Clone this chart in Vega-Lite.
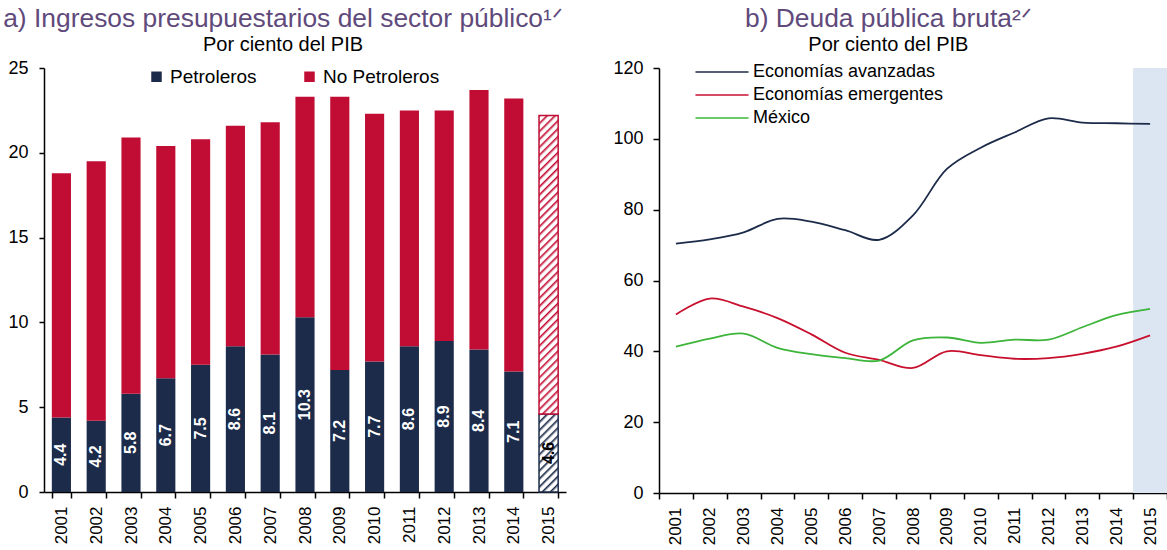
{
  "$schema": "https://vega.github.io/schema/vega-lite/v6.json",
  "padding": {"left": 0, "top": 5, "right": 0, "bottom": 0},
  "spacing": 43,
  "resolve": {"scale": {"color": "independent", "stroke": "independent", "x": "independent", "y": "independent"}, "legend": {"color": "independent", "stroke": "independent"}},
  "config": {
    "view": {"stroke": null},
    "font": "Liberation Sans",
    "axis": {"domainColor": "#000", "tickColor": "#000", "labelColor": "#000", "grid": false, "domainWidth": 1.5, "tickWidth": 1.5, "labelFont": "Liberation Sans", "zindex": 1},
    "title": {"font": "Liberation Sans", "fontSize": 26.4, "fontWeight": "normal", "color": "#604a7b", "subtitleFont": "Liberation Sans", "subtitleFontSize": 20, "subtitleColor": "#000", "subtitlePadding": 3, "anchor": "middle", "frame": "bounds", "offset": 4},
    "legend": {"labelFont": "Liberation Sans", "labelColor": "#000", "labelLimit": 0}
  },
  "datasets": {
    "ingresos": [
      {"year": "2001", "tipo": "Petroleros", "value": 4.4}, {"year": "2001", "tipo": "No Petroleros", "value": 14.4},
      {"year": "2002", "tipo": "Petroleros", "value": 4.2}, {"year": "2002", "tipo": "No Petroleros", "value": 15.3},
      {"year": "2003", "tipo": "Petroleros", "value": 5.8}, {"year": "2003", "tipo": "No Petroleros", "value": 15.1},
      {"year": "2004", "tipo": "Petroleros", "value": 6.7}, {"year": "2004", "tipo": "No Petroleros", "value": 13.7},
      {"year": "2005", "tipo": "Petroleros", "value": 7.5}, {"year": "2005", "tipo": "No Petroleros", "value": 13.3},
      {"year": "2006", "tipo": "Petroleros", "value": 8.6}, {"year": "2006", "tipo": "No Petroleros", "value": 13.0},
      {"year": "2007", "tipo": "Petroleros", "value": 8.1}, {"year": "2007", "tipo": "No Petroleros", "value": 13.7},
      {"year": "2008", "tipo": "Petroleros", "value": 10.3}, {"year": "2008", "tipo": "No Petroleros", "value": 13.0},
      {"year": "2009", "tipo": "Petroleros", "value": 7.2}, {"year": "2009", "tipo": "No Petroleros", "value": 16.1},
      {"year": "2010", "tipo": "Petroleros", "value": 7.7}, {"year": "2010", "tipo": "No Petroleros", "value": 14.6},
      {"year": "2011", "tipo": "Petroleros", "value": 8.6}, {"year": "2011", "tipo": "No Petroleros", "value": 13.9},
      {"year": "2012", "tipo": "Petroleros", "value": 8.9}, {"year": "2012", "tipo": "No Petroleros", "value": 13.6},
      {"year": "2013", "tipo": "Petroleros", "value": 8.4}, {"year": "2013", "tipo": "No Petroleros", "value": 15.3},
      {"year": "2014", "tipo": "Petroleros", "value": 7.1}, {"year": "2014", "tipo": "No Petroleros", "value": 16.1},
      {"year": "2015", "tipo": "Petroleros", "value": 4.6}, {"year": "2015", "tipo": "No Petroleros", "value": 17.6}
    ],
    "deuda": [
      {"year": "2001", "serie": "Economías avanzadas", "value": 70.4},
      {"year": "2002", "serie": "Economías avanzadas", "value": 71.6},
      {"year": "2003", "serie": "Economías avanzadas", "value": 73.6},
      {"year": "2004", "serie": "Economías avanzadas", "value": 77.4},
      {"year": "2005", "serie": "Economías avanzadas", "value": 76.6},
      {"year": "2006", "serie": "Economías avanzadas", "value": 74.2},
      {"year": "2007", "serie": "Economías avanzadas", "value": 71.5},
      {"year": "2008", "serie": "Economías avanzadas", "value": 78.4},
      {"year": "2009", "serie": "Economías avanzadas", "value": 91.5},
      {"year": "2010", "serie": "Economías avanzadas", "value": 97.5},
      {"year": "2011", "serie": "Economías avanzadas", "value": 101.8},
      {"year": "2012", "serie": "Economías avanzadas", "value": 105.8},
      {"year": "2013", "serie": "Economías avanzadas", "value": 104.6},
      {"year": "2014", "serie": "Economías avanzadas", "value": 104.4},
      {"year": "2015", "serie": "Economías avanzadas", "value": 104.2},
      {"year": "2001", "serie": "Economías emergentes", "value": 50.4},
      {"year": "2002", "serie": "Economías emergentes", "value": 54.9},
      {"year": "2003", "serie": "Economías emergentes", "value": 52.6},
      {"year": "2004", "serie": "Economías emergentes", "value": 49.4},
      {"year": "2005", "serie": "Economías emergentes", "value": 44.8},
      {"year": "2006", "serie": "Economías emergentes", "value": 39.6},
      {"year": "2007", "serie": "Economías emergentes", "value": 37.6},
      {"year": "2008", "serie": "Economías emergentes", "value": 35.3},
      {"year": "2009", "serie": "Economías emergentes", "value": 40.0},
      {"year": "2010", "serie": "Economías emergentes", "value": 38.9},
      {"year": "2011", "serie": "Economías emergentes", "value": 37.9},
      {"year": "2012", "serie": "Economías emergentes", "value": 38.1},
      {"year": "2013", "serie": "Economías emergentes", "value": 39.3},
      {"year": "2014", "serie": "Economías emergentes", "value": 41.3},
      {"year": "2015", "serie": "Economías emergentes", "value": 44.5},
      {"year": "2001", "serie": "México", "value": 41.3},
      {"year": "2002", "serie": "México", "value": 43.6},
      {"year": "2003", "serie": "México", "value": 45.0},
      {"year": "2004", "serie": "México", "value": 41.0},
      {"year": "2005", "serie": "México", "value": 39.2},
      {"year": "2006", "serie": "México", "value": 38.1},
      {"year": "2007", "serie": "México", "value": 37.4},
      {"year": "2008", "serie": "México", "value": 43.1},
      {"year": "2009", "serie": "México", "value": 43.9},
      {"year": "2010", "serie": "México", "value": 42.4},
      {"year": "2011", "serie": "México", "value": 43.3},
      {"year": "2012", "serie": "México", "value": 43.3},
      {"year": "2013", "serie": "México", "value": 46.8},
      {"year": "2014", "serie": "México", "value": 50.2},
      {"year": "2015", "serie": "México", "value": 52.0}
    ]
  },
  "hconcat": [
    {
      "width": 522,
      "height": 424,
      "title": {"text": "a) Ingresos presupuestarios del sector público¹ᐟ", "subtitle": "Por ciento del PIB"},
      "data": {"name": "ingresos"},
      "layer": [
        {
          "mark": {"type": "bar"},
          "encoding": {
            "x": {"field": "year", "type": "ordinal", "title": null, "scale": {"type": "band", "paddingInner": 0.45, "paddingOuter": 0.225}, "axis": {"labelAngle": -90, "labelFontSize": 17, "tickBand": "extent", "tickSize": 6, "labelPadding": 8}},
            "y": {"field": "value", "type": "quantitative", "stack": "zero", "title": null, "scale": {"domain": [0, 25], "nice": false}, "axis": {"values": [0, 5, 10, 15, 20, 25], "labelFontSize": 18, "tickSize": 5, "labelPadding": 11, "minExtent": 44}},
            "order": {"field": "tipo", "sort": "descending"},
            "stroke": {"field": "tipo", "type": "nominal", "legend": null, "scale": {"domain": ["Petroleros", "No Petroleros"], "range": ["#1c2b4a", "#c10d33"]}},
            "strokeWidth": {"condition": {"test": "datum.year === '2015'", "value": 1.5}, "value": 0},
            "color": {
              "field": "tipo", "type": "nominal",
              "scale": {"domain": ["Petroleros", "No Petroleros"], "range": ["#1c2b4a", "#c10d33"]},
              "legend": {"title": null, "orient": "none", "legendX": 103, "legendY": -1, "direction": "horizontal", "symbolType": "square", "symbolSize": 110, "symbolStrokeWidth": 0, "labelFontSize": 19, "labelOffset": 4, "columnPadding": 43, "padding": 0},
              "condition": [
                {"test": "datum.year === '2015' && datum.tipo === 'No Petroleros'", "value": {"gradient": "linear", "x1": 0, "y1": 0, "x2": 0.0679, "y2": 1.0597, "stops": [
                  {"offset": 0, "color": "#c10d33"}, {"offset": 0.01, "color": "#ffffff"}, {"offset": 0.02, "color": "#ffffff"},
                  {"offset": 0.025, "color": "#c10d33"}, {"offset": 0.035, "color": "#ffffff"}, {"offset": 0.045, "color": "#ffffff"},
                  {"offset": 0.05, "color": "#c10d33"}, {"offset": 0.06, "color": "#ffffff"}, {"offset": 0.07, "color": "#ffffff"},
                  {"offset": 0.075, "color": "#c10d33"}, {"offset": 0.085, "color": "#ffffff"}, {"offset": 0.095, "color": "#ffffff"},
                  {"offset": 0.1, "color": "#c10d33"}, {"offset": 0.11, "color": "#ffffff"}, {"offset": 0.12, "color": "#ffffff"},
                  {"offset": 0.125, "color": "#c10d33"}, {"offset": 0.135, "color": "#ffffff"}, {"offset": 0.145, "color": "#ffffff"},
                  {"offset": 0.15, "color": "#c10d33"}, {"offset": 0.16, "color": "#ffffff"}, {"offset": 0.17, "color": "#ffffff"},
                  {"offset": 0.175, "color": "#c10d33"}, {"offset": 0.185, "color": "#ffffff"}, {"offset": 0.195, "color": "#ffffff"},
                  {"offset": 0.2, "color": "#c10d33"}, {"offset": 0.21, "color": "#ffffff"}, {"offset": 0.22, "color": "#ffffff"},
                  {"offset": 0.225, "color": "#c10d33"}, {"offset": 0.235, "color": "#ffffff"}, {"offset": 0.245, "color": "#ffffff"},
                  {"offset": 0.25, "color": "#c10d33"}, {"offset": 0.26, "color": "#ffffff"}, {"offset": 0.27, "color": "#ffffff"},
                  {"offset": 0.275, "color": "#c10d33"}, {"offset": 0.285, "color": "#ffffff"}, {"offset": 0.295, "color": "#ffffff"},
                  {"offset": 0.3, "color": "#c10d33"}, {"offset": 0.31, "color": "#ffffff"}, {"offset": 0.32, "color": "#ffffff"},
                  {"offset": 0.325, "color": "#c10d33"}, {"offset": 0.335, "color": "#ffffff"}, {"offset": 0.345, "color": "#ffffff"},
                  {"offset": 0.35, "color": "#c10d33"}, {"offset": 0.36, "color": "#ffffff"}, {"offset": 0.37, "color": "#ffffff"},
                  {"offset": 0.375, "color": "#c10d33"}, {"offset": 0.385, "color": "#ffffff"}, {"offset": 0.395, "color": "#ffffff"},
                  {"offset": 0.4, "color": "#c10d33"}, {"offset": 0.41, "color": "#ffffff"}, {"offset": 0.42, "color": "#ffffff"},
                  {"offset": 0.425, "color": "#c10d33"}, {"offset": 0.435, "color": "#ffffff"}, {"offset": 0.445, "color": "#ffffff"},
                  {"offset": 0.45, "color": "#c10d33"}, {"offset": 0.46, "color": "#ffffff"}, {"offset": 0.47, "color": "#ffffff"},
                  {"offset": 0.475, "color": "#c10d33"}, {"offset": 0.485, "color": "#ffffff"}, {"offset": 0.495, "color": "#ffffff"},
                  {"offset": 0.5, "color": "#c10d33"}, {"offset": 0.51, "color": "#ffffff"}, {"offset": 0.52, "color": "#ffffff"},
                  {"offset": 0.525, "color": "#c10d33"}, {"offset": 0.535, "color": "#ffffff"}, {"offset": 0.545, "color": "#ffffff"},
                  {"offset": 0.55, "color": "#c10d33"}, {"offset": 0.56, "color": "#ffffff"}, {"offset": 0.57, "color": "#ffffff"},
                  {"offset": 0.575, "color": "#c10d33"}, {"offset": 0.585, "color": "#ffffff"}, {"offset": 0.595, "color": "#ffffff"},
                  {"offset": 0.6, "color": "#c10d33"}, {"offset": 0.61, "color": "#ffffff"}, {"offset": 0.62, "color": "#ffffff"},
                  {"offset": 0.625, "color": "#c10d33"}, {"offset": 0.635, "color": "#ffffff"}, {"offset": 0.645, "color": "#ffffff"},
                  {"offset": 0.65, "color": "#c10d33"}, {"offset": 0.66, "color": "#ffffff"}, {"offset": 0.67, "color": "#ffffff"},
                  {"offset": 0.675, "color": "#c10d33"}, {"offset": 0.685, "color": "#ffffff"}, {"offset": 0.695, "color": "#ffffff"},
                  {"offset": 0.7, "color": "#c10d33"}, {"offset": 0.71, "color": "#ffffff"}, {"offset": 0.72, "color": "#ffffff"},
                  {"offset": 0.725, "color": "#c10d33"}, {"offset": 0.735, "color": "#ffffff"}, {"offset": 0.745, "color": "#ffffff"},
                  {"offset": 0.75, "color": "#c10d33"}, {"offset": 0.76, "color": "#ffffff"}, {"offset": 0.77, "color": "#ffffff"},
                  {"offset": 0.775, "color": "#c10d33"}, {"offset": 0.785, "color": "#ffffff"}, {"offset": 0.795, "color": "#ffffff"},
                  {"offset": 0.8, "color": "#c10d33"}, {"offset": 0.81, "color": "#ffffff"}, {"offset": 0.82, "color": "#ffffff"},
                  {"offset": 0.825, "color": "#c10d33"}, {"offset": 0.835, "color": "#ffffff"}, {"offset": 0.845, "color": "#ffffff"},
                  {"offset": 0.85, "color": "#c10d33"}, {"offset": 0.86, "color": "#ffffff"}, {"offset": 0.87, "color": "#ffffff"},
                  {"offset": 0.875, "color": "#c10d33"}, {"offset": 0.885, "color": "#ffffff"}, {"offset": 0.895, "color": "#ffffff"},
                  {"offset": 0.9, "color": "#c10d33"}, {"offset": 0.91, "color": "#ffffff"}, {"offset": 0.92, "color": "#ffffff"},
                  {"offset": 0.925, "color": "#c10d33"}, {"offset": 0.935, "color": "#ffffff"}, {"offset": 0.945, "color": "#ffffff"},
                  {"offset": 0.95, "color": "#c10d33"}, {"offset": 0.96, "color": "#ffffff"}, {"offset": 0.97, "color": "#ffffff"},
                  {"offset": 0.975, "color": "#c10d33"}, {"offset": 0.985, "color": "#ffffff"}, {"offset": 0.995, "color": "#ffffff"},
                  {"offset": 1, "color": "#c10d33"}
                ]}},
                {"test": "datum.year === '2015' && datum.tipo === 'Petroleros'", "value": {"gradient": "linear", "x1": 0, "y1": 0, "x2": 0.2881, "y2": 1.1742, "stops": [
                  {"offset": 0, "color": "#1c2b4a"}, {"offset": 0.033, "color": "#ffffff"}, {"offset": 0.067, "color": "#ffffff"},
                  {"offset": 0.0833, "color": "#1c2b4a"}, {"offset": 0.1167, "color": "#ffffff"}, {"offset": 0.15, "color": "#ffffff"},
                  {"offset": 0.1667, "color": "#1c2b4a"}, {"offset": 0.2, "color": "#ffffff"}, {"offset": 0.2333, "color": "#ffffff"},
                  {"offset": 0.25, "color": "#1c2b4a"}, {"offset": 0.2833, "color": "#ffffff"}, {"offset": 0.3167, "color": "#ffffff"},
                  {"offset": 0.3333, "color": "#1c2b4a"}, {"offset": 0.3667, "color": "#ffffff"}, {"offset": 0.4, "color": "#ffffff"},
                  {"offset": 0.4167, "color": "#1c2b4a"}, {"offset": 0.45, "color": "#ffffff"}, {"offset": 0.4833, "color": "#ffffff"},
                  {"offset": 0.5, "color": "#1c2b4a"}, {"offset": 0.5333, "color": "#ffffff"}, {"offset": 0.5667, "color": "#ffffff"},
                  {"offset": 0.5833, "color": "#1c2b4a"}, {"offset": 0.6167, "color": "#ffffff"}, {"offset": 0.65, "color": "#ffffff"},
                  {"offset": 0.6667, "color": "#1c2b4a"}, {"offset": 0.7, "color": "#ffffff"}, {"offset": 0.7333, "color": "#ffffff"},
                  {"offset": 0.75, "color": "#1c2b4a"}, {"offset": 0.7833, "color": "#ffffff"}, {"offset": 0.8167, "color": "#ffffff"},
                  {"offset": 0.8333, "color": "#1c2b4a"}, {"offset": 0.8667, "color": "#ffffff"}, {"offset": 0.9, "color": "#ffffff"},
                  {"offset": 0.9167, "color": "#1c2b4a"}, {"offset": 0.95, "color": "#ffffff"}, {"offset": 0.9833, "color": "#ffffff"},
                  {"offset": 1, "color": "#1c2b4a"}
                ]}}
              ]
            }
          }
        },
        {
          "transform": [{"filter": "datum.tipo === 'Petroleros'"}],
          "mark": {"type": "text", "angle": 270, "fontSize": 16, "fontWeight": "bold", "font": "Liberation Sans"},
          "encoding": {
            "x": {"field": "year", "type": "ordinal", "scale": {"type": "band"}},
            "y": {"field": "value", "type": "quantitative", "stack": "zero", "bandPosition": 0.5, "scale": {"domain": [0, 25], "nice": false}},
            "text": {"field": "value", "type": "quantitative", "format": ".1f"},
            "color": {"condition": {"test": "datum.year === '2015'", "value": "#000000"}, "value": "#ffffff"}
          }
        }
      ]
    },
    {
      "width": 508,
      "height": 425,
      "title": {"text": "b) Deuda pública bruta²ᐟ", "subtitle": "Por ciento del PIB"},
      "data": {"name": "deuda"},
      "layer": [
        {
          "transform": [{"filter": "datum.year === '2015' && datum.serie === 'México'"}],
          "mark": {"type": "bar", "color": "#dce6f2"},
          "encoding": {
            "x": {"field": "year", "type": "ordinal", "scale": {"type": "band", "paddingInner": 0, "paddingOuter": 0}}
          }
        },
        {
          "mark": {"type": "line", "interpolate": "catmull-rom", "strokeWidth": 1.8},
          "encoding": {
            "x": {"field": "year", "type": "ordinal", "title": null, "scale": {"type": "band", "paddingInner": 0, "paddingOuter": 0}, "axis": {"labelAngle": -90, "labelFontSize": 17, "tickBand": "extent", "tickSize": 6, "labelPadding": 8}},
            "y": {"field": "value", "type": "quantitative", "title": null, "scale": {"domain": [0, 120], "nice": false}, "axis": {"values": [0, 20, 40, 60, 80, 100, 120], "labelFontSize": 18, "tickSize": 6, "labelPadding": 10, "minExtent": 50}},
            "color": {
              "field": "serie", "type": "nominal",
              "scale": {"domain": ["Economías avanzadas", "Economías emergentes", "México"], "range": ["#1c2b4a", "#c8102e", "#3db43a"]},
              "legend": {"title": null, "orient": "none", "legendX": 54, "legendY": -5, "symbolType": "M-8,0H8", "symbolSize": 44, "symbolStrokeWidth": 1.6, "labelFontSize": 18, "labelOffset": 22, "rowPadding": 5, "padding": 0}
            }
          }
        }
      ]
    }
  ]
}
